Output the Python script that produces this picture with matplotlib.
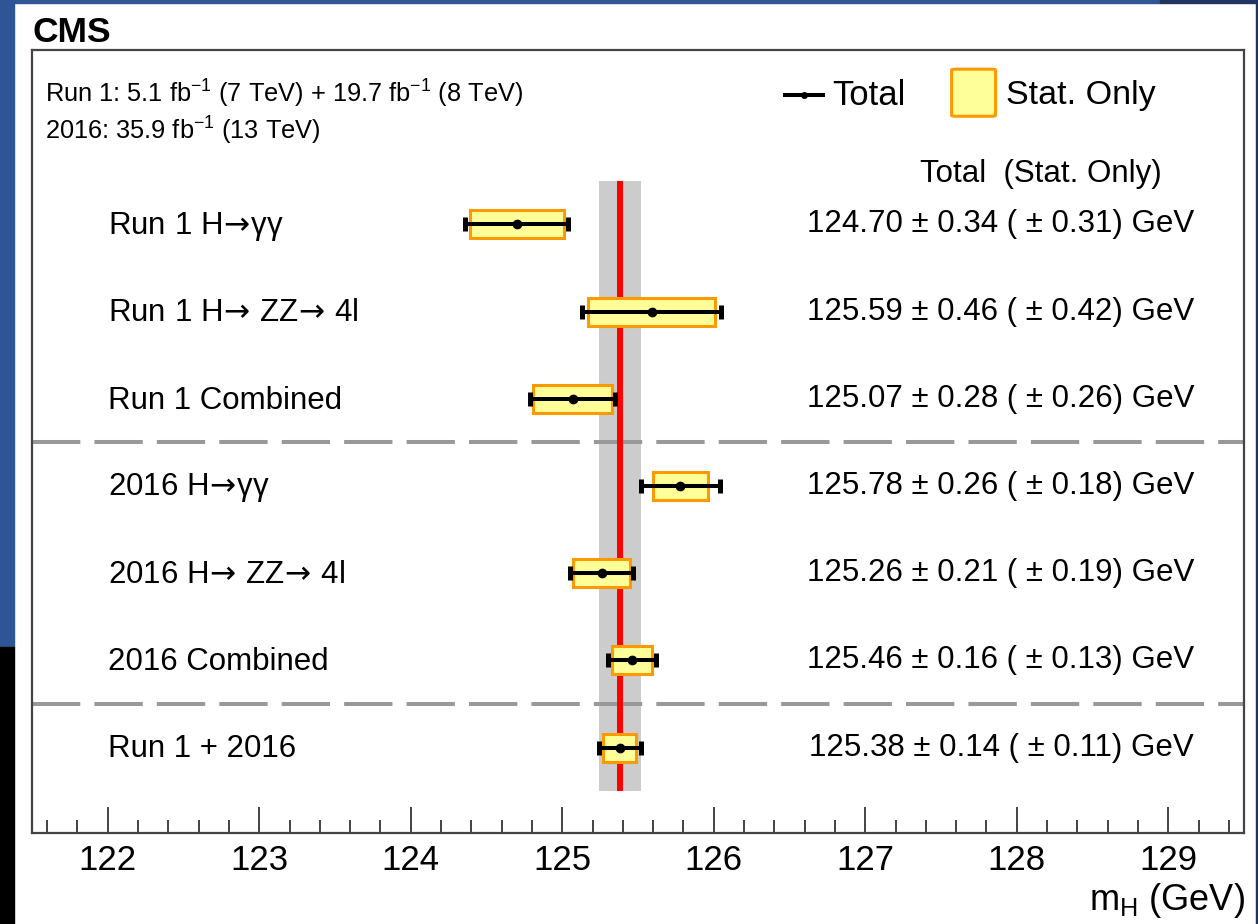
import matplotlib
matplotlib.use("Agg")
import matplotlib.pyplot as plt
from matplotlib.patches import Rectangle, FancyBboxPatch
from matplotlib.ticker import MultipleLocator
from matplotlib.lines import Line2D

plt.rcParams['font.family'] = ['Liberation Sans', 'DejaVu Sans']

labels = [r'Run 1 H$\!\rightarrow\!$γγ', r'Run 1 H$\!\rightarrow\!$ ZZ$\!\rightarrow\!$ 4l', 'Run 1 Combined',
          r'2016 H$\!\rightarrow\!$γγ', r'2016 H$\!\rightarrow\!$ ZZ$\!\rightarrow\!$ 4l', '2016 Combined', 'Run 1 + 2016']
mass = [124.70, 125.59, 125.07, 125.78, 125.26, 125.46, 125.38]
err_total = [0.34, 0.46, 0.28, 0.26, 0.21, 0.16, 0.14]
err_stat = [0.31, 0.42, 0.26, 0.18, 0.19, 0.13, 0.11]
separators = [2.5, 5.5]

W, H = 1258, 924
fig = plt.figure(figsize=(W / 100, H / 100), dpi=100)
fig.patch.set_facecolor('white')

# slide background bits around the picture
def px_rect(x0, y0, x1, y1, color):
    fig.patches.append(Rectangle((x0 / W, 1 - y1 / H), (x1 - x0) / W, (y1 - y0) / H,
                                 transform=fig.transFigure, color=color, zorder=-10))

px_rect(0, 0, 1160, 3, '#2f5597')
px_rect(1160, 0, W, 3, '#1f3560')
px_rect(0, 0, 14, 647, '#2f5597')
px_rect(0, 647, 14, H, '#000000')
px_rect(W - 2, 0, W, H, '#1f3560')

ax = fig.add_axes([32 / W, 1 - 833 / H, (1244 - 32) / W, (833 - 50) / H])
ax.set_xlim(121.5, 129.5)
ax.set_ylim(6.98, -2.0)

comb = mass[-1]
ax.fill_betweenx([-0.5, 6.5], comb - err_total[-1], comb + err_total[-1],
                 color='#cccccc', lw=0, zorder=1)
ax.plot([comb, comb], [-0.5, 6.5], color='#ff0000', lw=4.3, zorder=2,
        solid_capstyle='butt')

for ys in separators:
    ax.axhline(ys, color='#999999', lw=2.9, dashes=(12, 3.5), zorder=1)

box_h = 0.32
for i, (m, t, s) in enumerate(zip(mass, err_total, err_stat)):
    ax.add_patch(Rectangle((m - s, i - box_h / 2), 2 * s, box_h,
                           facecolor='#ffff99', edgecolor='#ff9900', lw=2.2, zorder=3))
    ax.errorbar(m, i, xerr=t, fmt='o', color='black', ms=6, elinewidth=2.9,
                capsize=5, capthick=3.6, zorder=4)
    ax.text(122.0, i + 0.02, labels[i], fontsize=22.5, va='center', ha='left')
    ax.text(129.17, i, f'{m:.2f} ± {t:.2f} ( ± {s:.2f}) GeV',
            fontsize=22.5, va='center', ha='right')

ax.text(128.16, -0.58, 'Total  (Stat. Only)', fontsize=22.5, va='center', ha='center')

ax.text(121.585, -1.5, r'Run 1: 5.1 fb$^{\mathregular{-1}}$ (7 TeV) + 19.7 fb$^{\mathregular{-1}}$ (8 TeV)',
        fontsize=18.3, va='center', ha='left')
ax.text(121.585, -1.07, r'2016: 35.9 fb$^{\mathregular{-1}}$ (13 TeV)',
        fontsize=18.3, va='center', ha='left')

# legend drawn by hand
ax.add_line(Line2D([126.47, 126.72], [-1.48, -1.48], color='black', lw=2.9, zorder=5))
ax.plot([126.595], [-1.48], 'o', color='black', ms=4, zorder=6)
ax.text(126.78, -1.48, 'Total', fontsize=25, va='center', ha='left')
ax.add_patch(FancyBboxPatch((127.57, -1.78), 0.29, 0.54,
                            boxstyle='round,pad=0,rounding_size=0.03',
                            facecolor='#ffff99', edgecolor='#ff9900', lw=2.2,
                            mutation_aspect=1 / 3, zorder=5))
ax.text(127.93, -1.48, 'Stat. Only', fontsize=24.5, va='center', ha='left')

for sp in ax.spines.values():
    sp.set_color('#444444')
    sp.set_linewidth(1.6)

ax.xaxis.set_major_locator(MultipleLocator(1))
ax.xaxis.set_minor_locator(MultipleLocator(0.2))
ax.tick_params(axis='x', which='major', direction='in', length=18.7, width=1.2,
               labelsize=25, pad=8, color='#222222')
ax.tick_params(axis='x', which='minor', direction='in', length=9.4, width=1.2,
               color='#222222')
ax.set_yticks([])

fig.text(1245 / W, 1 - 900 / H, r'm$_{\mathregular{H}}$ (GeV)', fontsize=26,
         ha='right', va='center')
fig.text(33 / W, 1 - 33 / H, 'CMS', fontsize=25.5, fontweight='bold',
         ha='left', va='center')

fig.savefig('out.png', dpi=100)
